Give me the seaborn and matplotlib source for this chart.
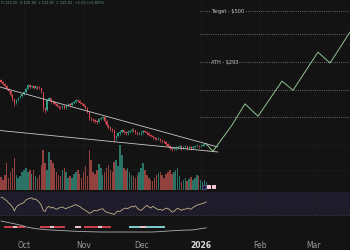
import numpy as np
import pandas as pd
import matplotlib
matplotlib.use("Agg")
import matplotlib.pyplot as plt
import seaborn as sns

# ---------------- data ----------------
first_open = 242
closes = [238, 233, 229, 222, 216, 208, 198, 190, 196, 202,
          205, 209, 214, 222, 230, 226, 228, 224, 227, 225,
          223, 214, 181, 177, 196, 200, 194, 192, 188, 185,
          183, 182, 184, 181, 186, 188, 187, 190, 193, 196,
          194, 190, 188, 185, 181, 174, 163, 161, 160, 158,
          156, 161, 163, 165, 158, 152, 148, 145, 143, 132,
          135, 139, 141, 143, 140, 139, 141, 142, 144, 143,
          140, 138, 139, 140, 142, 141, 139, 137, 135, 133,
          132, 131, 131, 129, 128, 127, 124, 122, 119, 118,
          118, 119, 120, 121, 119, 120, 121, 119, 120, 119,
          120, 121, 122, 121, 122, 123, 124, 125]
highs = [245, 240, 235, 231, 224, 218, 210, 200, 198, 204,
         207, 211, 216, 224, 233, 232, 231, 230, 229, 229,
         227, 224, 215, 183, 198, 203, 201, 196, 194, 190,
         187, 185, 186, 186, 188, 190, 190, 192, 195, 198,
         198, 196, 192, 190, 187, 182, 175, 165, 163, 162,
         160, 163, 165, 167, 166, 159, 153, 149, 147, 144,
         137, 141, 143, 145, 144, 142, 143, 144, 146, 146,
         144, 141, 141, 142, 144, 143, 142, 140, 138, 136,
         134, 133, 133, 132, 130, 129, 128, 125, 123, 120,
         120, 121, 122, 123, 122, 122, 123, 122, 122, 121,
         122, 123, 124, 123, 124, 125, 126, 127]
lows = [235, 231, 226, 219, 213, 205, 195, 185, 188, 194,
        200, 203, 207, 212, 220, 223, 224, 221, 222, 222,
        220, 211, 176, 172, 175, 194, 191, 189, 186, 183,
        180, 179, 180, 179, 179, 184, 185, 185, 188, 191,
        192, 188, 186, 183, 179, 171, 160, 158, 157, 155,
        153, 154, 159, 161, 155, 149, 145, 142, 140, 127,
        130, 133, 137, 139, 138, 137, 137, 139, 140, 141,
        138, 136, 136, 137, 138, 139, 137, 135, 133, 131,
        130, 129, 129, 127, 126, 125, 122, 120, 117, 115,
        116, 117, 118, 119, 117, 118, 119, 117, 118, 117,
        118, 119, 120, 119, 120, 121, 122, 123]
volumes = [13, 10, 15, 27, 12, 18, 22, 32, 15, 12,
           14, 18, 20, 22, 18, 20, 16, 20, 14, 12,
           15, 25, 40, 27, 20, 38, 30, 27, 22, 18,
           15, 14, 20, 22, 18, 12, 14, 12, 16, 18,
           20, 16, 12, 18, 24, 14, 40, 30, 18, 16,
           20, 26, 22, 15, 18, 22, 25, 20, 18, 28,
           30, 24, 45, 35, 22, 20, 22, 18, 15, 14,
           12, 15, 18, 22, 27, 20, 15, 12, 10, 9,
           12, 15, 17, 18, 15, 12, 16, 18, 20, 16,
           18, 20, 22, 14, 8, 10, 12, 9, 11, 13,
           10, 12, 15, 14, 10, 8, 10, 8]
rsi = [61, 60, 57, 55, 51, 48, 44, 37, 44, 47,
       49, 50, 52, 56, 58, 59, 60, 57, 58, 55,
       52, 47, 38, 36, 43, 45, 42, 44, 41, 40,
       42, 43, 44, 42, 41, 43, 44, 45, 47, 48,
       46, 45, 42, 40, 38, 36, 33, 34, 37, 38,
       37, 39, 40, 41, 37, 35, 34, 33, 32, 31,
       35, 37, 36, 39, 41, 42, 41, 43, 45, 44,
       46, 42, 39, 38, 41, 44, 47, 44, 42, 45,
       43, 41, 39, 40, 38, 40, 42, 41, 39, 35,
       36, 39, 42, 40, 38, 40, 40, 42, 41, 40,
       43, 45, 47, 48, 49, 50, 51, 53]
signal = [6, 5.6, 5.2, 4.8, 4.4, 4, 3.6, 3.2, 2.8, 2.4,
          2, 1.4, 0.8, 0.2, -0.2, -0.6, -1, -1.3, -1.6, -1.8,
          -2, -2.2, -2.4, -2.6, -2.8, -2.9, -3, -3.1, -3.2, -3.3,
          -3.4, -3.5, -3.6, -3.7, -3.8, -3.9, -4, -4.1, -4.2, -4.3,
          -4.4, -4.5, -4.5, -4.6, -4.6, -4.7, -4.7, -4.8, -4.8, -4.9,
          -4.9, -5, -5, -5, -5, -5, -5, -5, -5, -5,
          -5, -5, -5, -5, -5, -5, -5, -5, -5, -5,
          -5, -5, -5, -5, -5, -5, -5, -5, -5, -5,
          -4.9, -4.8, -4.7, -4.6, -4.5, -4.3, -4.2, -4, -3.9, -3.8,
          -3.7, -3.6, -3.5, -3.4, -3.3, -3.2, -3.1, -3.1, -3, -3,
          -2.8, -2.6, -2.3, -2, -1.7, -1.4, -1.1, -0.8]
ribbon = ("gg" "rrrrr" "ww" "rrrr" "gggggggg" "rrrrr" "ww" "rrrrrr"
          "ggggg" "www" "gg" "rrrrrrr" "ww" "rrrrr" "ggggggggg"
          "cccccc" "www" "cccccccccc" "gggggggggggggggggggggg")

month_days = [12, 43, 73, 104, 135, 163]
month_labels = ["Oct", "Nov", "Dec", "2026", "Feb", "Mar"]

proj_days = [107, 110.4, 120.3, 127.1, 133.9, 146.4, 152.1, 165.1, 171.4, 183.5]
proj_prices = [124, 115, 151, 189, 166, 240, 218, 325, 290, 423]

levels = [500, 393, 293, 218, 165]
level_labels = ["Target - $500", "", "ATH - $293", "", ""]
grid_prices = [122.7, 94.5]

upper_tl_days = [-0.5, 113]
upper_tl_prices = [225.5, 120.2]
lower_tl_days = [-0.5, 113]
lower_tl_prices = [142.9, 114.1]

event_days = [105.8, 108.4, 111.0]
event_level = [3, 3, 3]

header = "O 124.10  H 125.92  L 122.87  C 125.01  +1.02 (+0.82%)"

# ---------------- style ----------------
BG = "#131313"
UP, DOWN = "#2f9e84", "#e04a57"
VUP, VDOWN = "#2a7366", "#93413f"
sns.set_theme(style="dark", rc={"axes.facecolor": BG, "figure.facecolor": BG,
                                "savefig.facecolor": BG})
plt.rcParams["font.family"] = ["DejaVu Sans"]

W, H = 350, 250
fig = plt.figure(figsize=(3.5, 2.5), dpi=100)


def add_ax(y0, y1, face=True):
    ax = fig.add_axes([0, 1 - y1 / H, 1, (y1 - y0) / H])
    ax.set_facecolor(BG if face else "none")
    for s in ax.spines.values():
        s.set_visible(False)
    ax.set_xlim(-0.5, 181.8)
    ax.tick_params(length=0, labelbottom=False, labelleft=False)
    ax.set_xticks([])
    ax.set_yticks([])
    ax.grid(False)
    return ax


days = np.arange(len(closes))
opens = [first_open] + closes[:-1]
df = pd.DataFrame({"day": days, "open": opens, "high": highs, "low": lows,
                   "close": closes, "volume": volumes, "rsi": rsi,
                   "signal": signal, "ribbon": list(ribbon)})
df["up"] = df["close"] >= df["open"]

# ---------------- price pane ----------------
ax = add_ax(0, 192)
ax.set_yscale("log")
ax.set_ylim(75.0, 561.5)
ax.set_xlim(-0.5, 181.8)
ax.set_yticks([])
ax.minorticks_off()

for m in month_days:
    ax.axvline(m, color="#1b1b1b", lw=0.5, zorder=0)
for g in grid_prices:
    ax.axhline(g, color="#1d1d1d", lw=0.5, zorder=0)

ax.hlines(levels, 103.7, 181.8, colors="#8a8a8a", lw=0.6,
          linestyles=(0, (1, 1.6)), zorder=1)
for lv, lab in zip(levels, level_labels):
    if lab:
        ax.text(109.4, lv, lab, fontsize=3.6, color="#d0d0d0",
                ha="left", va="center", zorder=3,
                bbox=dict(boxstyle="square,pad=0.1", fc=BG, ec="none"))

cols = [UP if u else DOWN for u in df["up"]]
ax.vlines(df["day"], df["low"], df["high"], colors=cols, lw=0.5, zorder=4)
body_bottom = np.minimum(df["open"], df["close"])
body_h = np.maximum(np.abs(df["close"] - df["open"]), 0.8)
ax.bar(df["day"], body_h, bottom=body_bottom, width=0.62, color=cols,
       linewidth=0, zorder=5)

sns.lineplot(x=upper_tl_days, y=upper_tl_prices, ax=ax, color="#c8c8c8",
             lw=0.6, estimator=None, sort=False, zorder=6)
sns.lineplot(x=lower_tl_days, y=lower_tl_prices, ax=ax, color="#c8c8c8",
             lw=0.6, estimator=None, sort=False, zorder=6)
sns.lineplot(x=proj_days, y=proj_prices, ax=ax, color="#92c292",
             lw=0.7, estimator=None, sort=False, zorder=6)
ax.set_xlabel("")
ax.set_ylabel("")
ax.set_xlim(-0.5, 181.8)
ax.set_ylim(75.0, 561.5)

# ---------------- volume pane ----------------
axv = add_ax(140, 190, face=False)
vcols = [VUP if u else VDOWN for u in df["up"]]
axv.bar(df["day"], df["volume"], width=0.8, color=vcols, linewidth=0)
axv.scatter(event_days[:1], event_level[:1], s=9, marker="o",
            facecolor="#1a1830", edgecolor="#6a5ab0", linewidth=0.5, zorder=5)
axv.scatter(event_days[1:], event_level[1:], s=10, marker="s",
            color="#f2c4d4", linewidth=0, zorder=5)
axv.set_ylim(0, 50)
axv.set_xlim(-0.5, 181.8)

# ---------------- RSI pane ----------------
axr = add_ax(192, 220)
axr.set_ylim(21.3, 70.0)
axr.axhspan(30, 70, color="#1e1b2b", lw=0, zorder=0)
for m in month_days:
    axr.axvline(m, color="#1b1b1b", lw=0.5, zorder=0)
axr.axhline(30, color="#5c5a6a", lw=0.5, ls=(0, (1, 1.5)), zorder=1)
axr.axhline(50, color="#2a2838", lw=0.4, ls=(0, (1, 1.5)), zorder=1)
sns.lineplot(data=df, x="day", y="rsi", ax=axr, color="#c2b48a", lw=0.6,
             estimator=None, zorder=3)
axr.set_xlabel("")
axr.set_ylabel("")
axr.set_xlim(-0.5, 181.8)
axr.set_xticks([])
axr.set_yticks([])

# ---------------- momentum pane ----------------
axm = add_ax(217, 238, face=False)
axm.set_ylim(-11, 10)
rib_col = {"r": "#c93e4b", "w": "#e6c2c8", "c": "#7fc6c6", "g": "#3e3e3e"}
rib_h = {"r": 2.2, "w": 2.2, "c": 1.8, "g": 0.9}
hts = np.array([rib_h[c] for c in df["ribbon"]])
axm.bar(df["day"], hts, bottom=-hts / 2, width=1.02,
        color=[rib_col[c] for c in df["ribbon"]], linewidth=0, zorder=3)
sns.lineplot(data=df, x="day", y="signal", ax=axm, color="#b0b0b0", lw=0.6,
             estimator=None, zorder=4)
axm.set_xlabel("")
axm.set_ylabel("")
axm.set_xlim(-0.5, 181.8)
axm.set_yticks([])
axm.set_xticks(month_days)
axm.set_xticklabels(month_labels)
axm.tick_params(axis="x", length=0, pad=2.2, labelsize=5.5,
                colors="#9a9a9a", labelbottom=True)
for t in axm.get_xticklabels():
    if t.get_text() == "2026":
        t.set_fontweight("bold")
        t.set_color("#dcdcdc")

fig.text(0.003, 1 - 3.5 / H, header, fontsize=2.6, color="#5f9c86",
         ha="left", va="center")

fig.savefig("out.png", dpi=100, facecolor=BG)
